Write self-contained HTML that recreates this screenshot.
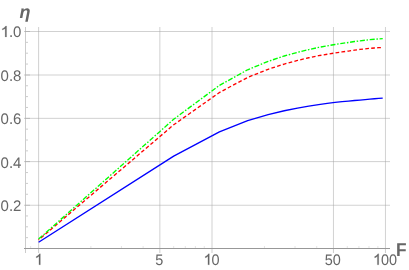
<!DOCTYPE html>
<html lang="en"><head><meta charset="utf-8"><title>plot</title>
<style>
html,body{margin:0;padding:0;background:#fff;}
body{width:409px;height:270px;position:relative;overflow:hidden;font-family:"Liberation Sans",sans-serif;}
#L{position:absolute;left:0;top:0;width:409px;height:270px;will-change:transform;}
</style></head><body>
<div id="L"><svg width="409" height="270" viewBox="0 0 409 270" style="position:absolute;left:0;top:0">
<line x1="38.60" y1="27.00" x2="38.60" y2="248.00" stroke="#a2a2a2" stroke-width="0.5"/>
<line x1="159.85" y1="27.00" x2="159.85" y2="248.00" stroke="#a2a2a2" stroke-width="0.5"/>
<line x1="212.00" y1="27.00" x2="212.00" y2="248.00" stroke="#a2a2a2" stroke-width="0.5"/>
<line x1="333.45" y1="27.00" x2="333.45" y2="248.00" stroke="#a2a2a2" stroke-width="0.5"/>
<line x1="385.45" y1="27.00" x2="385.45" y2="248.00" stroke="#a2a2a2" stroke-width="0.5"/>
<line x1="26.00" y1="205.25" x2="390.00" y2="205.25" stroke="#a2a2a2" stroke-width="0.5"/>
<line x1="26.00" y1="161.60" x2="390.00" y2="161.60" stroke="#a2a2a2" stroke-width="0.5"/>
<line x1="26.00" y1="118.35" x2="390.00" y2="118.35" stroke="#a2a2a2" stroke-width="0.5"/>
<line x1="26.00" y1="75.00" x2="390.00" y2="75.00" stroke="#a2a2a2" stroke-width="0.5"/>
<line x1="26.00" y1="31.50" x2="390.00" y2="31.50" stroke="#a2a2a2" stroke-width="0.5"/>
<line x1="25.50" y1="27.00" x2="25.50" y2="253.00" stroke="#999999" stroke-width="0.5"/>
<line x1="24.00" y1="248.50" x2="390.00" y2="248.50" stroke="#989898" stroke-width="1"/>
<line x1="26.00" y1="237.65" x2="28.00" y2="237.65" stroke="#999999" stroke-width="0.5"/>
<line x1="26.00" y1="226.80" x2="28.00" y2="226.80" stroke="#999999" stroke-width="0.5"/>
<line x1="26.00" y1="215.95" x2="28.00" y2="215.95" stroke="#999999" stroke-width="0.5"/>
<line x1="24.00" y1="205.25" x2="30.00" y2="205.25" stroke="#999999" stroke-width="0.5"/>
<line x1="26.00" y1="194.25" x2="28.00" y2="194.25" stroke="#999999" stroke-width="0.5"/>
<line x1="26.00" y1="183.40" x2="28.00" y2="183.40" stroke="#999999" stroke-width="0.5"/>
<line x1="26.00" y1="172.55" x2="28.00" y2="172.55" stroke="#999999" stroke-width="0.5"/>
<line x1="24.00" y1="161.60" x2="30.00" y2="161.60" stroke="#999999" stroke-width="0.5"/>
<line x1="26.00" y1="150.85" x2="28.00" y2="150.85" stroke="#999999" stroke-width="0.5"/>
<line x1="26.00" y1="140.00" x2="28.00" y2="140.00" stroke="#999999" stroke-width="0.5"/>
<line x1="26.00" y1="129.15" x2="28.00" y2="129.15" stroke="#999999" stroke-width="0.5"/>
<line x1="24.00" y1="118.35" x2="30.00" y2="118.35" stroke="#999999" stroke-width="0.5"/>
<line x1="26.00" y1="107.45" x2="28.00" y2="107.45" stroke="#999999" stroke-width="0.5"/>
<line x1="26.00" y1="96.60" x2="28.00" y2="96.60" stroke="#999999" stroke-width="0.5"/>
<line x1="26.00" y1="85.75" x2="28.00" y2="85.75" stroke="#999999" stroke-width="0.5"/>
<line x1="24.00" y1="75.00" x2="30.00" y2="75.00" stroke="#999999" stroke-width="0.5"/>
<line x1="26.00" y1="64.05" x2="28.00" y2="64.05" stroke="#999999" stroke-width="0.5"/>
<line x1="26.00" y1="53.20" x2="28.00" y2="53.20" stroke="#999999" stroke-width="0.5"/>
<line x1="26.00" y1="42.35" x2="28.00" y2="42.35" stroke="#999999" stroke-width="0.5"/>
<line x1="24.00" y1="31.50" x2="30.00" y2="31.50" stroke="#999999" stroke-width="0.5"/>
<line x1="38.60" y1="249.00" x2="38.60" y2="253.00" stroke="#999999" stroke-width="0.5"/>
<line x1="159.85" y1="249.00" x2="159.85" y2="253.00" stroke="#999999" stroke-width="0.5"/>
<line x1="212.00" y1="249.00" x2="212.00" y2="253.00" stroke="#999999" stroke-width="0.5"/>
<line x1="333.45" y1="249.00" x2="333.45" y2="253.00" stroke="#999999" stroke-width="0.5"/>
<line x1="385.45" y1="249.00" x2="385.45" y2="253.00" stroke="#999999" stroke-width="0.5"/>
<line x1="30.66" y1="246.00" x2="30.66" y2="248.00" stroke="#c8c8c8" stroke-width="0.5"/>
<line x1="90.86" y1="246.00" x2="90.86" y2="248.00" stroke="#c8c8c8" stroke-width="0.5"/>
<line x1="121.43" y1="246.00" x2="121.43" y2="248.00" stroke="#c8c8c8" stroke-width="0.5"/>
<line x1="143.12" y1="246.00" x2="143.12" y2="248.00" stroke="#c8c8c8" stroke-width="0.5"/>
<line x1="173.69" y1="246.00" x2="173.69" y2="248.00" stroke="#c8c8c8" stroke-width="0.5"/>
<line x1="185.31" y1="246.00" x2="185.31" y2="248.00" stroke="#c8c8c8" stroke-width="0.5"/>
<line x1="195.38" y1="246.00" x2="195.38" y2="248.00" stroke="#c8c8c8" stroke-width="0.5"/>
<line x1="204.26" y1="246.00" x2="204.26" y2="248.00" stroke="#c8c8c8" stroke-width="0.5"/>
<line x1="264.46" y1="246.00" x2="264.46" y2="248.00" stroke="#c8c8c8" stroke-width="0.5"/>
<line x1="295.03" y1="246.00" x2="295.03" y2="248.00" stroke="#c8c8c8" stroke-width="0.5"/>
<line x1="316.72" y1="246.00" x2="316.72" y2="248.00" stroke="#c8c8c8" stroke-width="0.5"/>
<line x1="347.29" y1="246.00" x2="347.29" y2="248.00" stroke="#c8c8c8" stroke-width="0.5"/>
<line x1="358.91" y1="246.00" x2="358.91" y2="248.00" stroke="#c8c8c8" stroke-width="0.5"/>
<line x1="368.98" y1="246.00" x2="368.98" y2="248.00" stroke="#c8c8c8" stroke-width="0.5"/>
<line x1="377.86" y1="246.00" x2="377.86" y2="248.00" stroke="#c8c8c8" stroke-width="0.5"/>
<path d="M38.60,242.21 L173.69,156.17 L219.39,131.90 L247.64,120.53 L268.14,114.55 L284.24,110.78 L297.50,108.14 L308.77,106.12 L318.58,104.55 L327.25,103.35 L335.03,102.44 L342.09,101.64 L348.53,101.06 L354.47,100.54 L359.98,100.06 L365.11,99.60 L369.91,99.18 L374.43,98.77 L378.69,98.40 L382.72,98.05" fill="none" stroke="#0000ff" stroke-width="1.35" stroke-linejoin="round"/>
<path d="M38.60,239.93 L173.69,124.78 L219.39,92.53 L247.64,77.42 L268.14,69.29 L284.24,64.05 L297.50,60.46 L308.77,57.77 L318.58,55.70 L327.25,54.23 L335.03,52.95 L342.09,51.94 L348.53,51.05 L354.47,50.12 L359.98,49.44 L365.11,48.87 L369.91,48.31 L374.43,47.96 L378.69,47.68 L382.72,47.45" fill="none" stroke="#ff0000" stroke-width="1.35" stroke-dasharray="3.7 2.3" stroke-dashoffset="3" stroke-linejoin="round"/>
<path d="M38.60,239.09 L173.69,119.23 L219.39,85.40 L247.64,69.76 L268.14,61.35 L284.24,55.98 L297.50,52.34 L308.77,49.60 L318.58,47.43 L327.25,45.86 L335.03,44.49 L342.09,43.41 L348.53,42.48 L354.47,41.53 L359.98,40.84 L365.11,40.25 L369.91,39.66 L374.43,39.24 L378.69,38.89 L382.72,38.58" fill="none" stroke="#00ff00" stroke-width="1.35" stroke-dasharray="5 1.7 1.5 1.7" stroke-linejoin="round"/>
<g font-family="Liberation Sans, sans-serif" fill="#666666" text-rendering="geometricPrecision"><g transform="translate(0.60,36.70) scale(0.98,1)" font-size="15.3"><path transform="translate(-0.043,0.2) scale(0.008041,-0.007395)" d="M763 0H583V1147Q518 1085 412.5 1023T223 930V1104Q374 1175 487 1276T647 1472H763Z" stroke="#666666" stroke-width="0.2" vector-effect="non-scaling-stroke"/><text x="8.509" y="0">.</text><text x="12.760" y="0">0</text></g><g transform="translate(0.60,80.90) scale(0.98,1)" font-size="15.3"><text x="0.000" y="0">0</text><text x="8.509" y="0">.</text><text x="12.760" y="0">8</text></g><g transform="translate(0.60,124.30) scale(0.98,1)" font-size="15.3"><text x="0.000" y="0">0</text><text x="8.509" y="0">.</text><text x="12.760" y="0">6</text></g><g transform="translate(0.60,167.50) scale(0.98,1)" font-size="15.3"><text x="0.000" y="0">0</text><text x="8.509" y="0">.</text><text x="12.760" y="0">4</text></g><g transform="translate(0.60,211.00) scale(0.98,1)" font-size="15.3"><text x="0.000" y="0">0</text><text x="8.509" y="0">.</text><text x="12.760" y="0">2</text></g><g transform="translate(38.60,264.55) scale(0.945,1)" font-size="15.3"><path transform="translate(-4.298,0.2) scale(0.008041,-0.007395)" d="M763 0H583V1147Q518 1085 412.5 1023T223 930V1104Q374 1175 487 1276T647 1472H763Z" stroke="#666666" stroke-width="0.2" vector-effect="non-scaling-stroke"/></g><g transform="translate(159.35,264.55) scale(0.945,1)" font-size="15.3"><text x="-4.255" y="0">5</text></g><g transform="translate(211.60,264.55) scale(0.945,1)" font-size="15.3"><path transform="translate(-8.552,0.2) scale(0.008041,-0.007395)" d="M763 0H583V1147Q518 1085 412.5 1023T223 930V1104Q374 1175 487 1276T647 1472H763Z" stroke="#666666" stroke-width="0.2" vector-effect="non-scaling-stroke"/><text x="0.000" y="0">0</text></g><g transform="translate(332.85,264.55) scale(0.945,1)" font-size="15.3"><text x="-8.509" y="0">5</text><text x="0.000" y="0">0</text></g><g transform="translate(385.05,264.55) scale(0.945,1)" font-size="15.3"><path transform="translate(-12.807,0.2) scale(0.008041,-0.007395)" d="M763 0H583V1147Q518 1085 412.5 1023T223 930V1104Q374 1175 487 1276T647 1472H763Z" stroke="#666666" stroke-width="0.2" vector-effect="non-scaling-stroke"/><text x="-4.255" y="0">0</text><text x="4.255" y="0">0</text></g><text transform="translate(19.50,17.70) scale(1,1)" text-anchor="start" font-size="18" font-weight="bold" font-style="italic">&#951;</text><text transform="translate(396.00,255.60) scale(0.93,1)" text-anchor="start" font-size="18.6" font-weight="bold">F</text></g>
</svg></div>
</body></html>
